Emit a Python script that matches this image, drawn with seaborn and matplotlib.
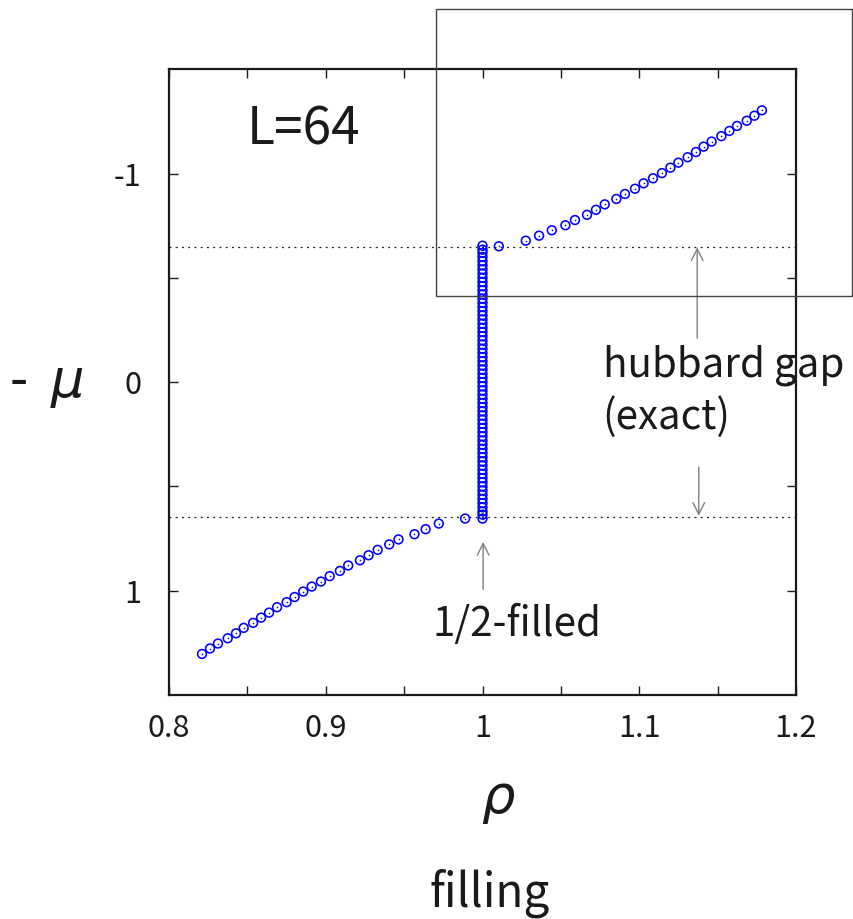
import numpy as np
import pandas as pd
import seaborn as sns
import matplotlib.pyplot as plt
from matplotlib.patches import Rectangle

# filling vs -mu, L=64
rho_lower = [0.8210, 0.8261, 0.8312, 0.8374, 0.8427, 0.8476, 0.8536, 0.8587, 0.8638,
             0.8689, 0.8750, 0.8801, 0.8856, 0.8910, 0.8969, 0.9025, 0.9090, 0.9143,
             0.9218, 0.9273, 0.9331, 0.9405, 0.9464, 0.9566, 0.9637, 0.9721, 0.9889]
mu_lower = [1.303, 1.277, 1.253, 1.228, 1.204, 1.178, 1.154, 1.129, 1.105,
            1.079, 1.055, 1.030, 1.004, 0.980, 0.956, 0.930, 0.905, 0.879,
            0.854, 0.830, 0.804, 0.778, 0.754, 0.729, 0.705, 0.678, 0.654]

rho_upper = [1.0104, 1.0276, 1.0361, 1.0442, 1.0529, 1.0590, 1.0667, 1.0724, 1.0780,
             1.0854, 1.0909, 1.0973, 1.1028, 1.1088, 1.1145, 1.1199, 1.1250, 1.1309,
             1.1362, 1.1411, 1.1462, 1.1524, 1.1575, 1.1624, 1.1686, 1.1735, 1.1783]
mu_upper = [-0.651, -0.678, -0.702, -0.728, -0.752, -0.777, -0.802, -0.826, -0.852,
            -0.878, -0.902, -0.927, -0.953, -0.977, -1.002, -1.028, -1.052, -1.078,
            -1.103, -1.129, -1.153, -1.179, -1.204, -1.228, -1.253, -1.277, -1.303]

# points sitting at half filling, inside the gap
mu_half = [-0.654, -0.635, -0.62, -0.60, -0.58, -0.56, -0.54, -0.52, -0.50, -0.48, -0.46,
           -0.44, -0.42, -0.40, -0.38, -0.36, -0.34, -0.32, -0.30, -0.28, -0.26,
           -0.24, -0.22, -0.20, -0.18, -0.16, -0.14, -0.12, -0.10, -0.08, -0.06,
           -0.04, -0.02, 0.0, 0.02, 0.04, 0.06, 0.08, 0.10, 0.12, 0.14, 0.16,
           0.18, 0.20, 0.22, 0.24, 0.26, 0.28, 0.30, 0.32, 0.34, 0.36,
           0.38, 0.40, 0.42, 0.44, 0.46, 0.48, 0.50, 0.52, 0.54, 0.56,
           0.58, 0.60, 0.62, 0.635, 0.654]
rho_half = [1.0] * len(mu_half)

gap = 0.646  # hubbard gap (exact)

dane = pd.DataFrame({'rho': rho_lower + rho_half + rho_upper,
                     'mu': mu_lower + mu_half + mu_upper})

sns.set_theme(style='ticks')
plt.rcParams['font.family'] = ['Noto Sans CJK JP', 'DejaVu Sans']
plt.rcParams['mathtext.fontset'] = 'dejavusans'
plt.rcParams['axes.unicode_minus'] = False
plt.rcParams['text.color'] = 'k'
plt.rcParams['xtick.color'] = 'k'
plt.rcParams['ytick.color'] = 'k'

f = plt.figure(figsize=(8.54, 9.19), dpi=100)
ax1 = f.add_axes([0.198, 0.2437, 0.734, 0.681])

ax1.axhline(-gap, color='k', lw=0.9, ls=(0, (1.5, 3.5)))
ax1.axhline(gap, color='k', lw=0.9, ls=(0, (1.5, 3.5)))

sns.scatterplot(data=dane, x='rho', y='mu', marker='o', s=40, facecolor='none',
                edgecolor='#0000ff', linewidth=1.15, ax=ax1, zorder=3)
sns.scatterplot(data=dane, x='rho', y='mu', marker='o', s=1.3, color='#0000ff',
                linewidth=0, ax=ax1, zorder=4)

ax1.set(xlim=(0.8, 1.2), ylim=(1.5, -1.5))
ax1.set(xlabel=None, ylabel=None)
ax1.set_xticks([0.8, 0.9, 1.0, 1.1, 1.2])
ax1.set_xticklabels(['0.8', '0.9', '1', '1.1', '1.2'])
ax1.set_xticks([0.85, 0.95, 1.05, 1.15], minor=True)
ax1.set_yticks([-1, 0, 1])
ax1.set_yticklabels(['-1', '0', '1'])
ax1.set_yticks([-0.5, 0.5], minor=True)
ax1.tick_params(which='both', direction='in', top=True, right=True,
                length=6.5, width=1.0, color='k')
ax1.tick_params(axis='x', which='major', labelsize=22, pad=13)
ax1.tick_params(axis='y', which='major', labelsize=22, pad=20)
for s in ax1.spines.values():
    s.set_linewidth(1.6)
    s.set_color('k')

ax1.text(0.8497, -1.137, 'L=64', fontsize=37, ha='left', va='baseline')
ax1.text(1.0767, -0.025, 'hubbard gap', fontsize=29, ha='left', va='baseline')
ax1.text(1.0767, 0.225, '(exact)', fontsize=29, ha='left', va='baseline')
ax1.text(0.9683, 1.218, '1/2-filled', fontsize=29, ha='left', va='baseline')

strzalka = dict(arrowstyle='->,head_length=0.7,head_width=0.35', color='#808080', lw=1.0,
                shrinkA=0, shrinkB=0)
ax1.annotate('', xy=(1.137, -gap), xytext=(1.137, -0.211), arrowprops=strzalka)
ax1.annotate('', xy=(1.138, gap - 0.005), xytext=(1.138, 0.408), arrowprops=strzalka)
ax1.annotate('', xy=(1.0004, 0.766), xytext=(1.0004, 0.993), arrowprops=strzalka)

f.add_artist(Rectangle((0.5102, 0.6779), 0.4871, 0.3123, transform=f.transFigure,
                       fill=False, edgecolor='#444444', lw=1.0))

f.text(47 / 854, 1 - 383 / 919, r'-  $\mu$', fontsize=38, ha='center', va='center')
f.text(498 / 854, 1 - 813 / 919, r'$\rho$', fontsize=38, ha='center', va='baseline')
f.text(490 / 854, 1 - 906 / 919, 'filling', fontsize=33, ha='center', va='baseline')

f.savefig('out.png', dpi=100)
